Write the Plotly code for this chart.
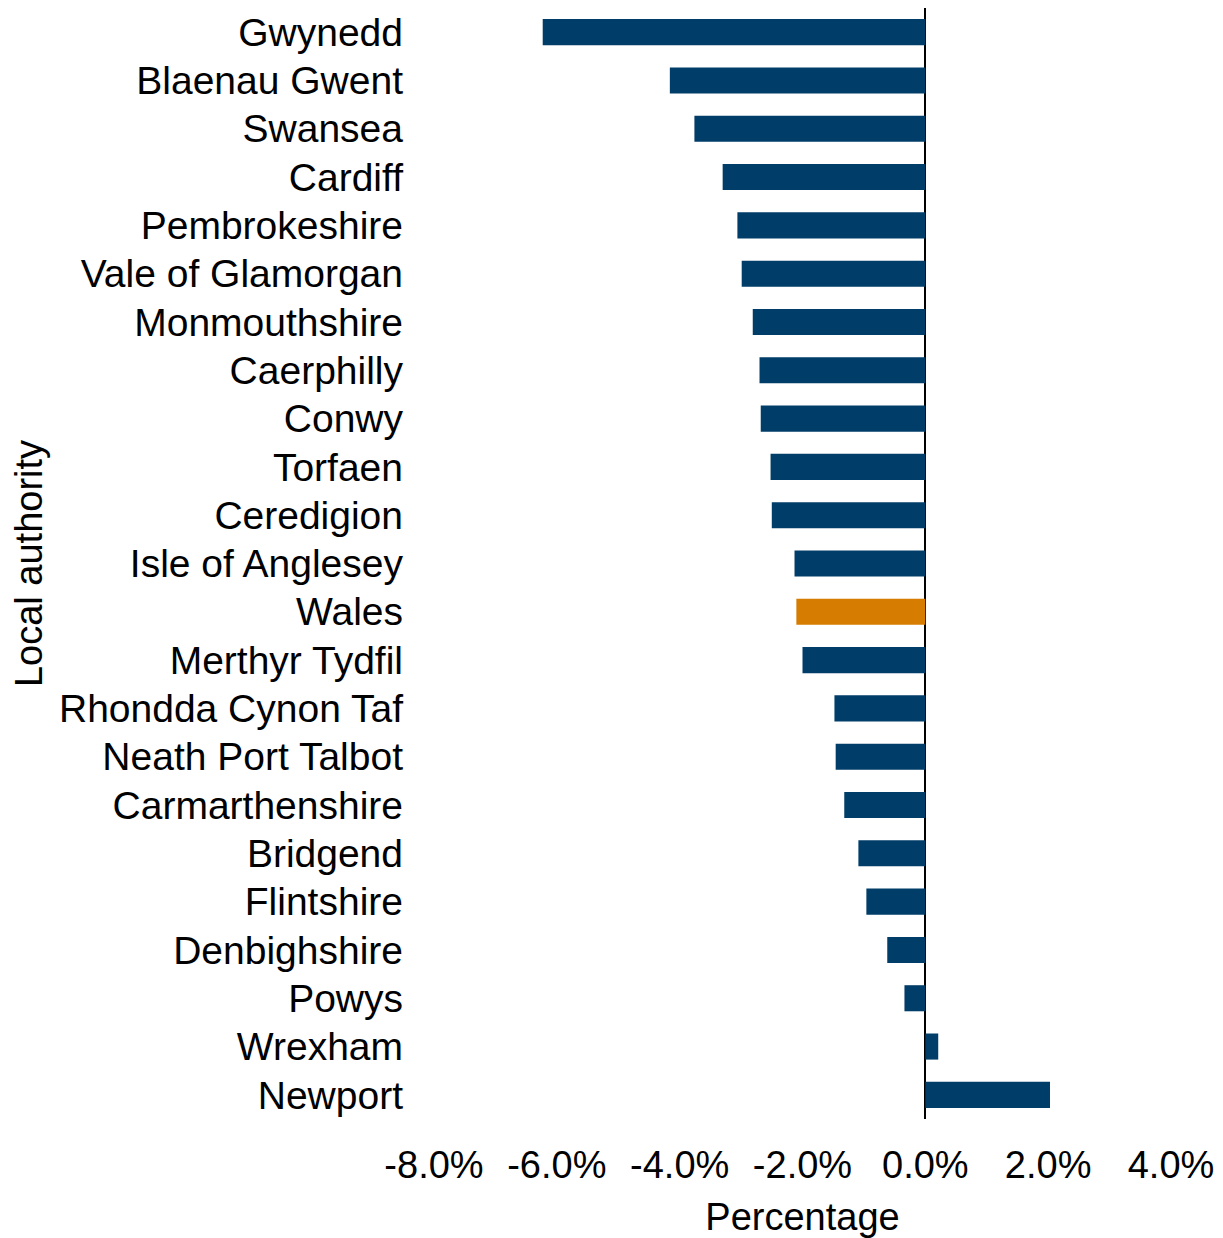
import plotly.graph_objects as go

authorities = ["Gwynedd", "Blaenau Gwent", "Swansea", "Cardiff", "Pembrokeshire",
               "Vale of Glamorgan", "Monmouthshire", "Caerphilly", "Conwy", "Torfaen",
               "Ceredigion", "Isle of Anglesey", "Wales", "Merthyr Tydfil",
               "Rhondda Cynon Taf", "Neath Port Talbot", "Carmarthenshire", "Bridgend",
               "Flintshire", "Denbighshire", "Powys", "Wrexham", "Newport"]
change_pct = [-6.23, -4.16, -3.76, -3.30, -3.06, -2.99, -2.81, -2.70, -2.68, -2.52,
              -2.50, -2.13, -2.10, -2.00, -1.48, -1.46, -1.32, -1.09, -0.96, -0.62,
              -0.34, 0.21, 2.03]
tick_vals = [-8, -6, -4, -2, 0, 2, 4]
tick_text = ["-8.0%", "-6.0%", "-4.0%", "-2.0%", "0.0%", "2.0%", "4.0%"]

NAVY = "#003d69"
ORANGE = "#d67c00"
colors = [ORANGE if a == "Wales" else NAVY for a in authorities]

fig = go.Figure(go.Bar(
    x=change_pct, y=authorities, orientation="h",
    marker=dict(color=colors, line=dict(width=0)),
))

FONT = "Liberation Sans, Arial, sans-serif"
FS = 38
fig.update_layout(
    width=1215, height=1230,
    margin=dict(l=426, r=52, t=0, b=119, autoexpand=False),
    paper_bgcolor="white", plot_bgcolor="white",
    font=dict(family=FONT, size=FS, color="black"),
    bargap=0.46,
    showlegend=False,
    xaxis=dict(
        range=[-8, 4], tickvals=tick_vals, ticktext=tick_text,
        showgrid=False, showline=False, ticks="",
        zeroline=True, zerolinecolor="black", zerolinewidth=2,
        layer="above traces",
        ticklabelstandoff=20,
        tickfont=dict(size=FS),
        title=dict(text="Percentage", standoff=18, font=dict(size=FS)),
        automargin=False,
    ),
    yaxis=dict(
        categoryorder="array", categoryarray=authorities, autorange="reversed",
        showgrid=False, showline=False, ticks="", zeroline=False,
        ticklabelstandoff=30,
        tickfont=dict(size=39),
        title=dict(text="Local authority", standoff=7, font=dict(size=FS)),
        automargin=False,
    ),
)

fig.write_html("out.html")
